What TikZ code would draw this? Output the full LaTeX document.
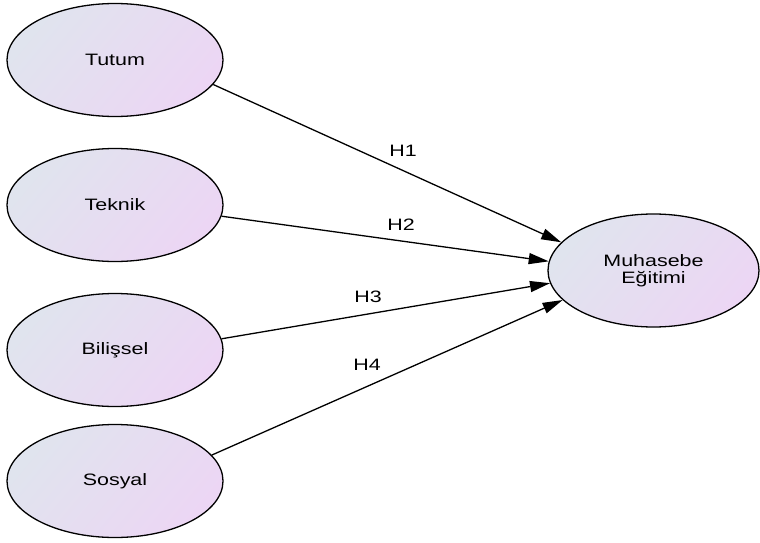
\documentclass[tikz,border=0pt]{standalone}
\usepackage{fontspec}
\setmainfont{Liberation Sans}[FakeStretch=1.3]
\usetikzlibrary{arrows.meta,shapes.geometric}

\definecolor{elleft}{RGB}{224,228,238}
\definecolor{elright}{RGB}{236,214,244}

\begin{document}
\begin{tikzpicture}[x=1pt, y=-1pt,
    factor/.style={ellipse, draw, line width=1.3pt, left color=elleft, right color=elright,
      shading angle=50, minimum width=216pt, minimum height=113pt, inner sep=0pt,
      align=center, font=\fontsize{16.5}{17}\selectfont},
    path/.style={line width=1.3pt, -{Triangle[length=20pt, width=11pt]}},
    hyp/.style={font=\fontsize{16.5}{17}\selectfont}]
      \useasboundingbox (0,0) rectangle (760,543);
      \node[factor] (tutum) at (115,60) {Tutum};
      \node[factor] (teknik) at (115,205) {Teknik};
      \node[factor] (bilissel) at (115,350) {Bilişsel};
      \node[factor] (sosyal) at (115,481) {Sosyal};
      \node[factor, minimum width=211pt] (muhasebe) at (653.5,270.5) {Muhasebe\\Eğitimi};
      \draw[path] (tutum.-14.5) -- (muhasebe.163);
      \draw[path] (teknik.-6) -- (muhasebe.175);
      \draw[path] (bilissel.6) -- (muhasebe.187);
      \draw[path] (sosyal.15) -- (muhasebe.198);
      \node[hyp] (h1) at (403,151) {H1};
      \node[hyp] (h2) at (401,225) {H2};
      \node[hyp] (h3) at (368,297) {H3};
      \node[hyp] (h4) at (367,365) {H4};
\end{tikzpicture}
\end{document}
